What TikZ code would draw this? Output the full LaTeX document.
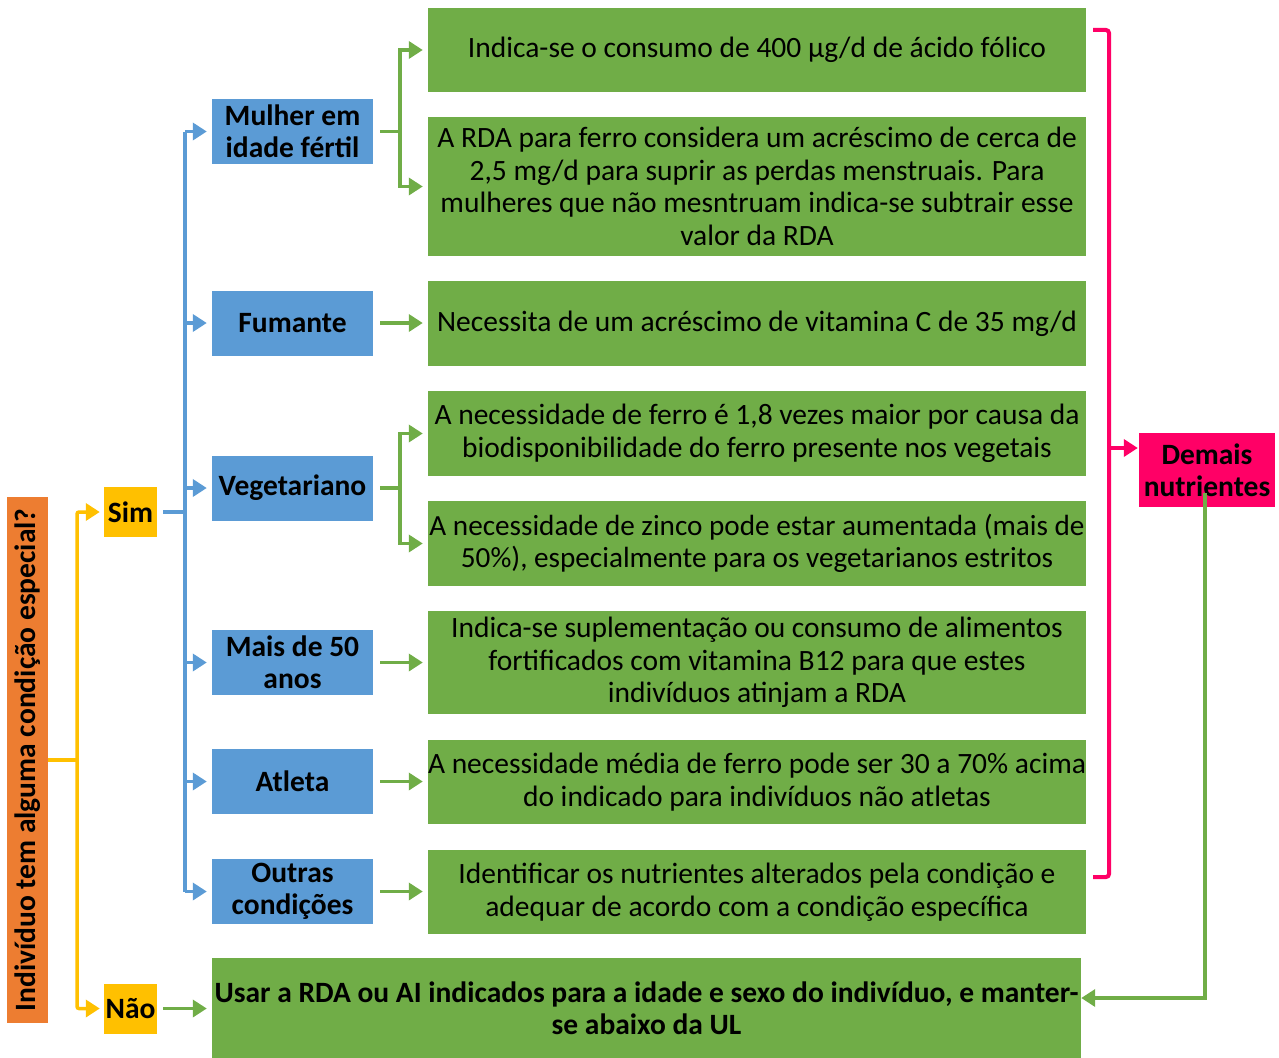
\documentclass[tikz,border=0pt]{standalone}
\usepackage{fontspec}
\setmainfont{Carlito}
\usetikzlibrary{arrows.meta,calc}
\definecolor{cblue}{HTML}{5B9BD5}
\definecolor{cgreen}{HTML}{70AD47}
\definecolor{corange}{HTML}{ED7D31}
\definecolor{cyellow}{HTML}{FFC000}
\definecolor{cpink}{HTML}{FF0066}
\tikzset{
  gbox/.style={fill=cgreen, draw=none, inner sep=0pt, align=center, minimum width=658pt, font=\fontsize{29.5}{32.5}\selectfont},
  bbox/.style={fill=cblue, draw=none, inner sep=0pt, align=center, minimum width=161pt, minimum height=65pt, font=\bfseries\fontsize{29.5}{32}\selectfont},
  ybox/.style={fill=cyellow, draw=none, inner sep=0pt, align=center, minimum width=53pt, minimum height=50pt, font=\bfseries\fontsize{29.5}{32}\selectfont},
  tip/.style={-{Triangle[length=14pt,width=17pt]}},
  bl/.style={draw=cblue, line width=3.5pt},
  gl/.style={draw=cgreen, line width=3.5pt},
  yl/.style={draw=cyellow, line width=3.5pt},
  pl/.style={draw=cpink, line width=4pt},
}
\begin{document}
\begin{tikzpicture}[x=1pt,y=-1pt]
\useasboundingbox (0,0) rectangle (1279,1057);

% orange
\node[fill=corange, inner sep=0pt, minimum width=526pt, minimum height=41pt, rotate=90, font=\bfseries\fontsize{29.5}{32}\selectfont] (q) at (27.5,760) {Indivíduo tem alguma condição especial?};

% yellow
\node[ybox] (sim) at (130.5,512) {Sim};
\node[ybox] (nao) at (130.5,1008.5) {Não};

% blue
\node[bbox] (mulher) at (292.5,131.5) {Mulher em\\idade fértil};
\node[bbox] (fuma) at (292.5,323) {Fumante};
\node[bbox] (veg) at (292.5,488) {Vegetariano};
\node[bbox] (mais) at (292.5,662.5) {Mais de 50\\anos};
\node[bbox] (atl) at (292.5,781.5) {Atleta};
\node[bbox] (out) at (292.5,891.5) {Outras\\condições};

% green
\node[gbox, minimum height=84pt] (g1) at (757,50) {Indica-se o consumo de 400 µg/d de ácido fólico};
\node[gbox, minimum height=139pt] (g2) at (757,186.5) {A RDA para ferro considera um acréscimo de cerca de\\2,5 mg/d para suprir as perdas menstruais. Para\\mulheres que não mesntruam indica-se subtrair esse\\valor da RDA};
\node[gbox, minimum height=85pt] (g3) at (757,323.5) {Necessita de um acréscimo de vitamina C de 35 mg/d};
\node[gbox, minimum height=85pt] (g4) at (757,433.5) {A necessidade de ferro é 1,8 vezes maior por causa da\\biodisponibilidade do ferro presente nos vegetais};
\node[gbox, minimum height=85pt, font=\fontsize{29.2}{32.5}\selectfont] (g5) at (757,543.5) {A necessidade de zinco pode estar aumentada (mais de\\50\%), especialmente para os vegetarianos estritos};
\node[gbox, minimum height=103pt] (g6) at (757,662.5) {Indica-se suplementação ou consumo de alimentos\\fortificados com vitamina B12 para que estes\\indivíduos atinjam a RDA};
\node[gbox, minimum height=84pt] (g7) at (757,782) {A necessidade média de ferro pode ser 30 a 70\% acima\\do indicado para indivíduos não atletas};
\node[gbox, minimum height=84pt] (g8) at (757,892) {Identificar os nutrientes alterados pela condição e\\adequar de acordo com a condição específica};

\node[fill=cgreen, inner sep=0pt, minimum width=869pt, minimum height=100pt, align=center, font=\bfseries\fontsize{29.5}{32.5}\selectfont] (fin) at (646.5,1008) {Usar a RDA ou AI indicados para a idade e sexo do indivíduo, e manter-\\se abaixo da UL};

% pink
\node[fill=cpink, inner sep=0pt, minimum width=136pt, minimum height=74pt, align=center, font=\bfseries\fontsize{29.5}{32}\selectfont] (dem) at (1207,470) {Demais\\nutrientes};

% yellow connectors
\coordinate (yj) at (77,760);
\draw[yl] (q.south) -- (yj);
\draw[yl, tip, rounded corners=2pt, shorten >=4pt] (yj) |- (sim.west);
\draw[yl, tip, rounded corners=2pt, shorten >=4pt] (yj) |- (nao.west);
\draw[gl, tip, shorten <=6pt, shorten >=5pt] (nao.east) -- (fin.west |- nao.east);

% blue connectors
\coordinate (bj) at (185,512);
\draw[bl, shorten <=6pt] (sim.east) -- (bj);
\draw[bl] (bj |- mulher.west) -- (bj |- out.west);
\foreach \n in {mulher,fuma,veg,mais,atl,out}{
  \draw[bl, tip, shorten >=5pt] (bj |- \n.west) -- (\n.west);
}

% green connectors
\coordinate (m1) at (400,131.5);
\draw[gl, shorten <=7pt] (mulher.east) -- (m1);
\draw[gl, tip, shorten >=5pt] (m1) |- (g1.west);
\draw[gl, tip, shorten >=5pt] (m1) |- (g2.west);
\coordinate (v1) at (400,488);
\draw[gl, shorten <=7pt] (veg.east) -- (v1);
\draw[gl, tip, shorten >=5pt] (v1) |- (g4.west);
\draw[gl, tip, shorten >=5pt] (v1) |- (g5.west);
\foreach \a/\b in {fuma/g3,mais/g6,atl/g7,out/g8}{
  \draw[gl, tip, shorten <=7pt, shorten >=5pt] (\a.east) -- (\a.east -| \b.west);
}

% pink bracket
\coordinate (pt) at (1093,30);
\coordinate (pb) at (1093,877);
\draw[pl, rounded corners=3pt] (pt) -- (1109,30) -- (1109,877) -- (pb);
\draw[pl, tip, shorten >=1pt] (1109,448) -- (dem.west |- 0,448);

% return line
\coordinate (dg) at (1205,493);
\draw[gl, tip] (dg) |- (fin.east |- 0,998);
\end{tikzpicture}
\end{document}
